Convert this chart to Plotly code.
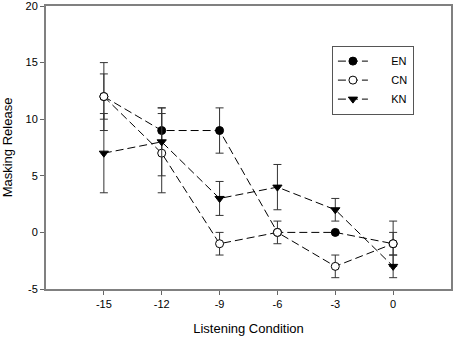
import plotly.graph_objects as go

conditions = [-15, -12, -9, -6, -3, 0]
en_vals = [12, 9, 9, 0, 0, -1]
en_err = [2, 2, 2, 0, 0, 1]
cn_vals = [12, 7, -1, 0, -3, -1]
cn_err = [3, 3.5, 1, 1, 1, 2]
kn_vals = [7, 8, 3, 4, 2, -3]
kn_err = [3.5, 3, 1.5, 2, 1, 1]
x_ticks = [-15, -12, -9, -6, -3, 0]
x_labels = ["-15", "-12", "-9", "-6", "-3", "0"]
y_ticks = [-5, 0, 5, 10, 15, 20]
y_labels = ["-5", "0", "5", "10", "15", "20"]

series = [
    ("EN", en_vals, en_err, dict(symbol="circle", color="black", size=8, line=dict(color="black", width=1))),
    ("CN", cn_vals, cn_err, dict(symbol="circle", color="white", size=8, line=dict(color="black", width=1))),
    ("KN", kn_vals, kn_err, dict(symbol="triangle-down", color="black", size=8, line=dict(color="black", width=1))),
]

fig = go.Figure()
pad = "\u00a0" * 6
for name, vals, err, marker in series:
    fig.add_trace(go.Scatter(
        x=conditions, y=vals, name=pad + name, mode="lines+markers",
        line=dict(color="black", width=1, dash="8px,4px"),
        marker=marker,
        error_y=dict(type="data", array=err, visible=True, color="#333333", thickness=1, width=4),
    ))

font = "Liberation Sans, Arial, sans-serif"
fig.update_layout(
    width=454, height=338,
    margin=dict(l=46, r=3, t=6, b=49),
    plot_bgcolor="white", paper_bgcolor="white",
    font=dict(family=font, size=11, color="black"),
    showlegend=True,
    legend=dict(
        x=0.706, y=0.86, xanchor="left", yanchor="top",
        bordercolor="#555555", borderwidth=1, bgcolor="white",
        font=dict(size=11), itemwidth=30, tracegroupgap=0,
    ),
    xaxis=dict(
        range=[-18, 3], tickvals=x_ticks, ticktext=x_labels, ticks="outside", ticklen=4,
        tickcolor="#666666", showline=True, linecolor="#808080", linewidth=2,
        mirror=True, showgrid=False, zeroline=False, automargin=False,
        title=dict(text="Listening Condition", font=dict(size=13), standoff=15),
    ),
    yaxis=dict(
        range=[-5, 20], tickvals=y_ticks, ticktext=y_labels, ticks="outside", ticklen=4,
        tickcolor="#666666", showline=True, linecolor="#808080", linewidth=2,
        mirror=True, showgrid=False, zeroline=False, automargin=False,
        ticklabeloverflow="allow",
        title=dict(text="Masking Release", font=dict(size=13), standoff=13),
    ),
)
fig.write_html("out.html", post_script="document.body.style.margin='0';",
               config={"displayModeBar": False})
